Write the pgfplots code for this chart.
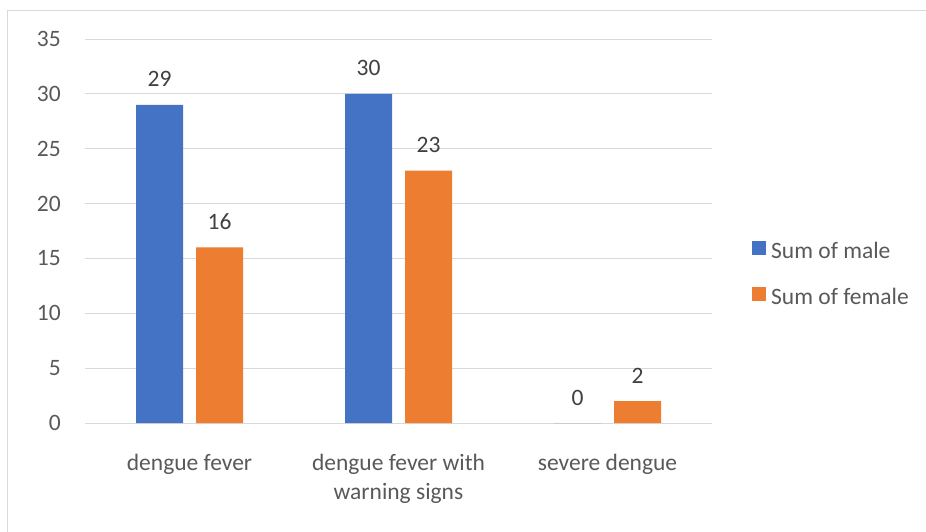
\documentclass[border=0pt]{standalone}
\usepackage{fontspec}
\setmainfont{Carlito}
\usepackage{pgfplots}
\pgfplotsset{compat=1.18}
\definecolor{cblue}{HTML}{4472C4}
\definecolor{corange}{HTML}{ED7D31}
\definecolor{cgrid}{HTML}{D9D9D9}
\definecolor{ctxt}{HTML}{595959}
\definecolor{clab}{HTML}{404040}
\newcommand\cf{\fontsize{23.5}{29}\selectfont}
\begin{document}
\begin{tikzpicture}[x=1pt,y=1pt]
\useasboundingbox (0,0) rectangle (926,531);
\draw[cgrid, line width=1.2pt] (7.5,-5) -- (7.5,520.5) -- (935,520.5);
\begin{axis}[
  at={(85pt,108pt)}, anchor=south west,
  scale only axis, width=627pt, height=384pt,
  xmin=-0.5, xmax=2.5, ymin=0, ymax=35,
  axis line style={draw=none},
  ytick={0,5,...,35}, xtick={0,1,2},
  xticklabels={dengue fever,{dengue fever with\\warning signs},severe dengue},
  major tick length=0pt,
  ymajorgrids, grid style={cgrid, line width=1pt},
  yticklabel style={font=\cf, text=ctxt, inner sep=0pt, anchor=east, xshift=-24pt},
  xticklabel style={font=\cf, text=ctxt, inner sep=0pt, anchor=north, align=center, yshift=-31pt},
  /pgf/number format/assume math mode=true,
  ybar, bar width=47pt,
  nodes near coords,
  every node near coord/.append style={font=\cf, text=clab, anchor=base, yshift=18pt, inner sep=0pt},
  legend style={at={(1.0638,0.384)}, anchor=west, draw=none, fill=none, inner sep=0pt,
    font=\cf, text=ctxt, row sep=23pt,
    nodes={inner sep=0pt, text height=16pt, text depth=6pt}},
  legend cell align=left,
]
\addplot[fill=cblue, draw=none, bar shift=-30pt,
  legend image code/.code={\fill[cblue] (0pt,-2pt) rectangle (14pt,12pt); \path (19pt,0pt);}]
  coordinates {(0,29) (1,30) (2,0)};
\addplot[fill=corange, draw=none, bar shift=30pt,
  legend image code/.code={\fill[corange] (0pt,-2pt) rectangle (14pt,12pt); \path (19pt,0pt);}]
  coordinates {(0,16) (1,23) (2,2)};
\legend{Sum of male, Sum of female}
\end{axis}
\end{tikzpicture}
\end{document}
